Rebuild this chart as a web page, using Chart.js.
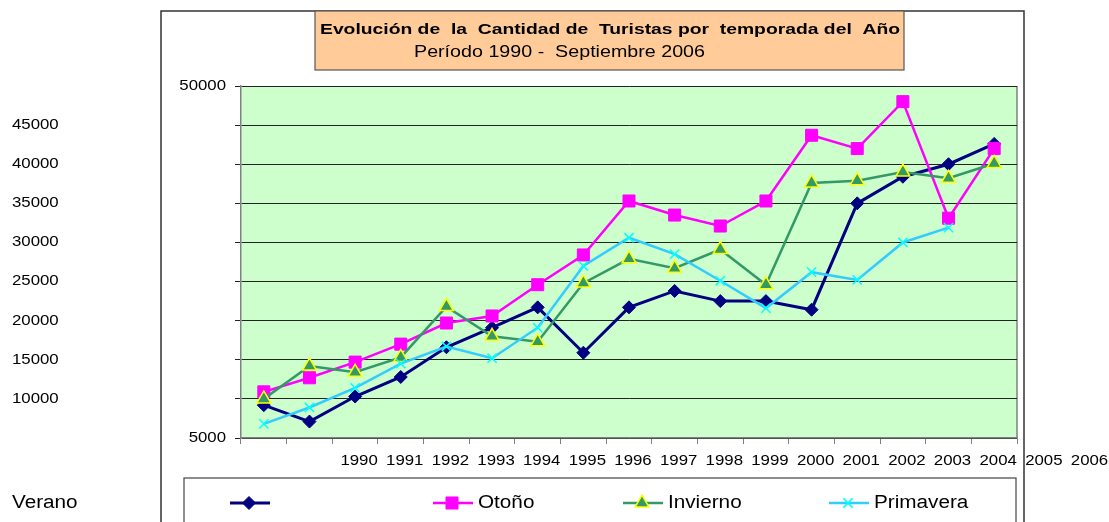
<!DOCTYPE html>
<html>
<head>
<meta charset="utf-8">
<script src="https://cdn.jsdelivr.net/npm/chart.js@4.4.1/dist/chart.umd.min.js"></script>
<style>
  html, body { margin: 0; padding: 0; background: #fff; }
  #wrap { width: 1109px; height: 522px; position: relative; }
</style>
</head>
<body>
<div id="wrap"><canvas id="chart"></canvas></div>
<script>
// Data
const years = ['1990', '1991', '1992', '1993', '1994', '1995', '1996', '1997', '1998',
  '1999', '2000', '2001', '2002', '2003', '2004', '2005', '2006'];
const verano = [9200, 7100, 10300, 12800, 16600, 19100, 21700, 15900, 21700, 23800,
  22500, 22500, 21400, 35000, 38400, 40000, 42600];
const otono = [10900, 12700, 14700, 17000, 19700, 20600, 24600, 28400, 35300, 33500,
  32100, 35300, 43700, 42000, 48000, 33100, 42000];
const invierno = [10000, 14200, 13400, 15300, 21800, 18000, 17300, 24800, 27900, 26700,
  29100, 24600, 37600, 37900, 39000, 38200, 40100];
const primavera = [6800, 8900, 11400, 14500, 16700, 15200, 19100, 27000, 30600, 28500,
  25100, 21600, 26200, 25200, 30000, 31900];
const yTicks = [5000, 10000, 15000, 20000, 25000, 30000, 35000, 40000, 45000, 50000];
const xTickLabels = years;
const labelShift = 2; // the original prints the year labels two slots to the right
const titleLines = ['Evolución de  la  Cantidad de  Turistas por  temporada del  Año',
  'Período 1990 -  Septiembre 2006'];

const FONT = '"Liberation Sans", Arial, sans-serif';

function drawText(ctx, text, x, y, opts = {}) {
  const size = opts.size || 14;
  ctx.save();
  ctx.font = `${opts.bold ? 'bold ' : ''}${size}px ${FONT}`;
  ctx.textBaseline = 'middle';
  ctx.textAlign = 'left';
  ctx.fillStyle = '#000';
  const natural = ctx.measureText(text).width;
  const sx = opts.width ? opts.width / natural : (opts.sx || 1.2);
  const w = natural * sx;
  let left = x;
  if (opts.align === 'right') left = x - w;
  else if (opts.align === 'center') left = x - w / 2;
  ctx.translate(left, y);
  ctx.scale(sx, 1);
  ctx.fillText(text, 0, 0);
  ctx.restore();
}

const datasets = [
  {
    label: 'Verano', data: verano, order: 3,
    borderColor: '#000080', backgroundColor: '#000080', borderWidth: 3,
    pointStyle: 'rectRot', pointRadius: 6.5, pointBorderWidth: 1,
    pointBackgroundColor: '#000080', pointBorderColor: '#000080'
  },
  {
    label: 'Otoño', data: otono, order: 2,
    borderColor: '#FF00FF', backgroundColor: '#FF00FF', borderWidth: 2.5,
    pointStyle: 'rect', pointRadius: 8.5, pointBorderWidth: 1,
    pointBackgroundColor: '#FF00FF', pointBorderColor: '#FF00FF'
  },
  {
    label: 'Invierno', data: invierno, order: 1,
    borderColor: '#339966', backgroundColor: '#339966', borderWidth: 2.5,
    pointStyle: 'triangle', pointRadius: 8, pointBorderWidth: 1.5,
    pointBackgroundColor: '#339966', pointBorderColor: '#FFFF00'
  },
  {
    label: 'Primavera', data: primavera, order: 0,
    borderColor: '#33CCFF', backgroundColor: '#33CCFF', borderWidth: 2.5,
    pointStyle: 'crossRot', pointRadius: 6.5, pointBorderWidth: 1.5,
    pointBackgroundColor: '#00FFFF', pointBorderColor: '#00FFFF'
  }
];

// frame, title box, plot background
const backdrop = {
  id: 'backdrop',
  beforeDraw(chart) {
    const ctx = chart.ctx;
    const a = chart.chartArea;
    ctx.save();
    ctx.fillStyle = '#fff';
    ctx.fillRect(0, 0, chart.width, chart.height);

    ctx.strokeStyle = '#333';
    ctx.lineWidth = 1.5;
    ctx.strokeRect(161, 11, 863, 540);

    ctx.fillStyle = '#FFCC99';
    ctx.fillRect(315, 11, 589, 59);
    ctx.strokeStyle = '#555';
    ctx.lineWidth = 1.2;
    ctx.strokeRect(315, 11, 589, 59);

    ctx.fillStyle = '#fff';
    ctx.fillRect(184, 478, 832, 60);
    ctx.strokeStyle = '#444';
    ctx.strokeRect(184, 478, 832, 60);

    ctx.fillStyle = '#CCFFCC';
    ctx.fillRect(a.left, a.top, a.right - a.left, a.bottom - a.top);
    ctx.strokeStyle = '#808080';
    ctx.lineWidth = 1.5;
    ctx.beginPath();
    ctx.moveTo(a.right, a.top);
    ctx.lineTo(a.right, a.bottom);
    ctx.stroke();
    ctx.restore();

    drawText(ctx, titleLines[0], 320, 30, { size: 15, bold: true, width: 580 });
    drawText(ctx, titleLines[1], 414, 53, { size: 16, width: 291 });
  },
  afterDraw(chart) {
    const ctx = chart.ctx;
    const x = chart.scales.x;
    const y = chart.scales.y;

    yTicks.forEach(v => {
      const py = y.getPixelForValue(v);
      if (v === yTicks[0] || v === yTicks[yTicks.length - 1]) {
        drawText(ctx, String(v), 226, py, { size: 14, align: 'right' });
      } else {
        drawText(ctx, String(v), 12, py, { size: 14 });
      }
    });

    xTickLabels.forEach((lab, i) => {
      const px = x.getPixelForValue(i + labelShift);
      drawText(ctx, lab, px + 4, 461, { size: 14, align: 'center' });
    });

    // legend row
    const legendX = [230, 433, 623, 829];
    const rowY = 503;
    chart.data.datasets.forEach((ds, i) => {
      const lx = legendX[i];
      ctx.save();
      ctx.strokeStyle = ds.borderColor;
      ctx.lineWidth = ds.borderWidth;
      ctx.beginPath();
      ctx.moveTo(lx, rowY);
      ctx.lineTo(lx + 40, rowY);
      ctx.stroke();
      ctx.fillStyle = ds.pointBackgroundColor;
      ctx.strokeStyle = ds.pointBorderColor;
      ctx.lineWidth = ds.pointBorderWidth;
      Chart.helpers.drawPoint(ctx, {
        pointStyle: ds.pointStyle, radius: ds.pointRadius,
        rotation: 0, borderWidth: ds.pointBorderWidth
      }, lx + 19, rowY);
      ctx.restore();
      if (i > 0) drawText(ctx, ds.label, lx + 45, rowY, { size: 18, sx: 1.15 });
    });
    drawText(ctx, datasets[0].label, 12, rowY, { size: 18, sx: 1.15 });
  }
};

new Chart(document.getElementById('chart'), {
  type: 'line',
  data: { labels: years, datasets: datasets },
  options: {
    responsive: true,
    maintainAspectRatio: false,
    animation: false,
    layout: { padding: { top: 86, right: 92, left: 0, bottom: 0 } },
    elements: { line: { tension: 0 } },
    plugins: { legend: { display: false }, tooltip: { enabled: false } },
    scales: {
      x: {
        offset: true,
        afterFit: s => { s.height = 84; },
        grid: { offset: true, drawOnChartArea: false, drawTicks: true, tickLength: 6, color: '#808080' },
        border: { color: '#808080', width: 1.5 },
        ticks: { callback: () => '', autoSkip: false, maxRotation: 0 }
      },
      y: {
        min: 5000,
        max: 50000,
        afterFit: s => { s.width = 241; },
        grid: { color: '#222', lineWidth: 1, tickLength: 6 },
        border: { color: '#808080', width: 1.5 },
        ticks: { stepSize: 5000, callback: () => '' }
      }
    }
  },
  plugins: [backdrop]
});
</script>
</body>
</html>
